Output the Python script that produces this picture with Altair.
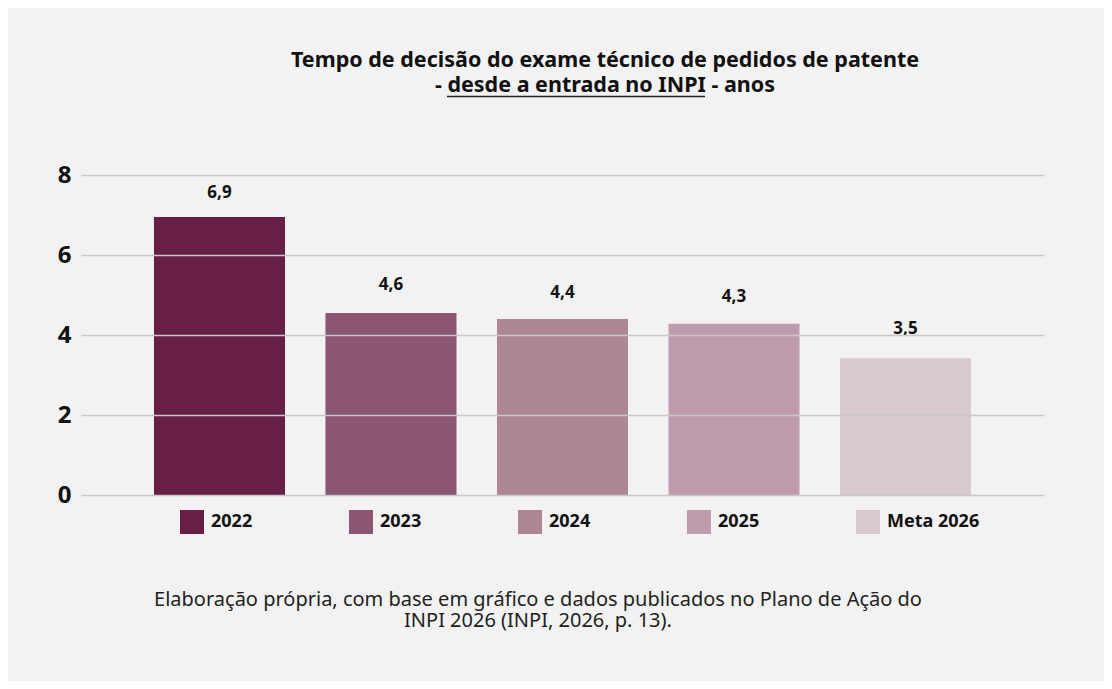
import altair as alt
import pandas as pd

categories = ["2022", "2023", "2024", "2025", "Meta 2026"]
bar_values = [6.95, 4.55, 4.4, 4.28, 3.42]
label_values = [6.9, 4.6, 4.4, 4.3, 3.5]
colors = ["#671f45", "#8c5572", "#ae8797", "#bf9cad", "#d8c9d0"]
y_ticks = [0, 2, 4, 6, 8]

title_lines = [
    "Tempo de decisão do exame técnico de pedidos de patente",
    "- desde a entrada no INPI - anos",
]
source_lines = [
    "Elaboração própria, com base em gráfico e dados publicados no Plano de Ação do",
    "INPI 2026 (INPI, 2026, p. 13).",
]

FONT = "Noto Sans"

df = pd.DataFrame({"cat": categories, "value": bar_values, "label": label_values})

x = alt.X("cat:N", sort=categories, axis=None,
          scale=alt.Scale(paddingInner=0.236, paddingOuter=0.4255))
color = alt.Color("cat:N", sort=categories,
                  scale=alt.Scale(domain=categories, range=colors),
                  legend=alt.Legend(orient="none", legendX=99, legendY=335,
                                    direction="horizontal", title=None,
                                    symbolType="square", symbolSize=576,
                                    symbolStrokeWidth=0, symbolOpacity=1,
                                    labelFont=FONT, labelFontSize=18, labelFontWeight="bold",
                                    labelColor="#111111", labelOffset=7,
                                    columnPadding=96, padding=0, labelLimit=0))

bars = alt.Chart(df).mark_bar(opacity=1).encode(
    x=x,
    y=alt.Y("value:Q", scale=alt.Scale(domain=[0, 8]),
            axis=alt.Axis(values=y_ticks, title=None, domain=False, ticks=False,
                          labelFont=FONT, labelFontSize=24, labelFontWeight="bold",
                          labelColor="#111111", labelPadding=10,
                          gridColor="#c8c8c8", gridWidth=1.5, zindex=1)),
    color=color,
)

texts = alt.Chart(df).transform_calculate(
    txt="replace(format(datum.label, '.1f'), '.', ',')"
).mark_text(font=FONT, fontSize=17, fontWeight="bold", color="#111111",
            baseline="alphabetic", dy=-21).encode(
    x=alt.X("cat:N", sort=categories, axis=None),
    y=alt.Y("label:Q"),
    text="txt:N",
)

one = pd.DataFrame({"a": [0]})

title = alt.Chart(one).mark_text(
    font=FONT, fontSize=21.5, fontWeight="bold", color="#111111", align="center",
    baseline="alphabetic", lineHeight=25,
).encode(x=alt.value(524), y=alt.value(-108.5), text=alt.value(title_lines))

underline = alt.Chart(one).mark_rule(color="#222222", strokeWidth=1.6).encode(
    x=alt.value(366), x2=alt.value(624), y=alt.value(-78.5)
)

source = alt.Chart(one).mark_text(
    font=FONT, fontSize=20, color="#222222", align="center",
    baseline="alphabetic", lineHeight=21,
).encode(x=alt.value(457), y=alt.value(431), text=alt.value(source_lines))

chart = alt.layer(bars, texts, title, underline, source).properties(
    width=963, height=320,
    autosize=alt.AutoSizeParams(type="none"),
    padding={"left": 73, "top": 167, "right": 60, "bottom": 186},
    background="#f2f2f2",
).configure_view(stroke=None)

chart.save("out.html", embed_options={"renderer": "svg", "actions": False})
